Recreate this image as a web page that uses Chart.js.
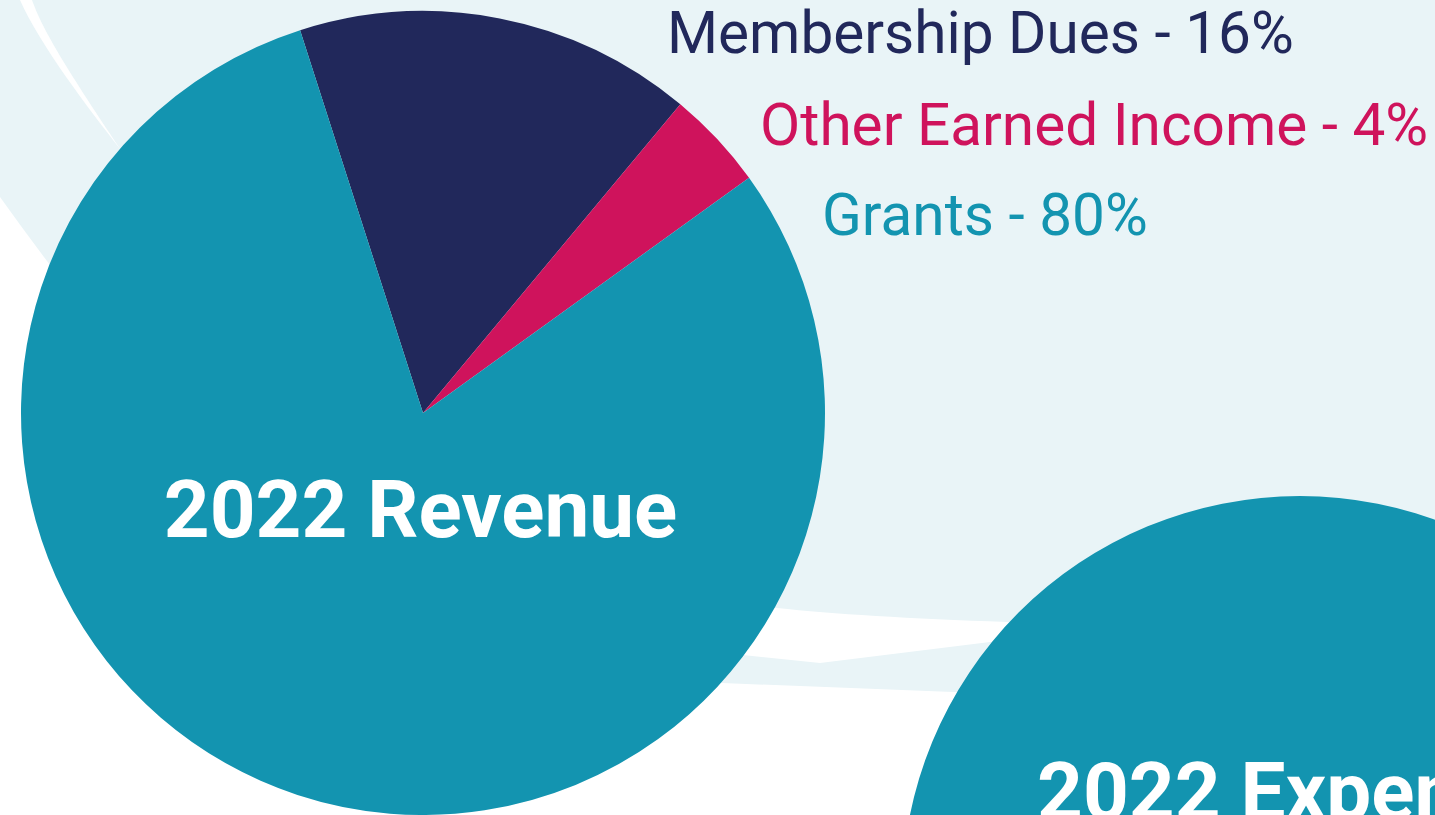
<!DOCTYPE html>
<html>
<head>
<meta charset="utf-8">
<title>2022 Revenue</title>
<script src="https://cdn.jsdelivr.net/npm/chart.js@4.4.1/dist/chart.umd.min.js"></script>
<style>
    html, body {
        margin: 0;
        padding: 0;
        width: 1435px;
        height: 815px;
        overflow: hidden;
        background: #ffffff;
        font-family: Roboto, "Noto Sans", sans-serif;
    }
    #page { position: relative; width: 1435px; height: 815px; overflow: hidden; }
    #bg { position: absolute; left: 0; top: 0; }
    #revenueChart { position: absolute; left: 0; top: 0; }
    #expenseWrap { position: absolute; left: 902px; top: 496px; width: 796px; height: 796px; }
</style>
</head>
<body>
<div id="page">
    <!-- background wash and swooshes -->
    <svg id="bg" width="1435" height="815" viewBox="0 0 1435 815">
        <path fill="#e9f4f7" d="M0,0 H1435 V700 L1200,700 L953,692 L722,683 L400,650 L100,330 L50,265 Q25,232 0,197 Z"/>
        <path fill="#ffffff" d="M20,0 L32,0 C42,28 62,62 121,150 C88,108 40,45 20,0 Z"/>
        <path fill="#ffffff" d="M700,600 L777,608 Q860,617 1007,622 L1100,625 L1100,636 L990,642 L820,663 L743,655 L690,648 Z"/>
    </svg>
    <canvas id="revenueChart" width="1435" height="815"></canvas>
    <div id="expenseWrap"><canvas id="expenseChart" width="796" height="796"></canvas></div>
</div>

<script>
// Revenue data (percent)
const revenueLabels = ['Membership Dues', 'Other Earned Income', 'Grants'];
const revenueValues = [16, 4, 80];
const revenueColors = ['#21285b', '#cf135c', '#1394b0'];
const revenueTitle = '2022 Revenue';

// Expenses chart is mostly cut off, only its teal part shows
const expenseLabels = ['Expenses'];
const expenseValues = [100];
const expenseColors = ['#1394b0'];
const expenseTitle = '2022 Expenses';

// where the category labels sit (left x, baseline y)
const labelPositions = [[667, 53], [760, 145], [822, 235]];

/* ===========================
   Plugins for the text
   =========================== */

const revenueText = {
    id: 'revenueText',
    afterDraw(chart) {
        const ctx = chart.ctx;
        ctx.save();
        ctx.textBaseline = 'alphabetic';

        // category labels to the right of the pie
        ctx.font = '400 58.5px Roboto';
        ctx.textAlign = 'left';
        revenueLabels.forEach((label, i) => {
            ctx.fillStyle = revenueColors[i];
            const pos = labelPositions[i];
            ctx.fillText(`${label} - ${revenueValues[i]}%`, pos[0], pos[1]);
        });

        // title inside the pie
        ctx.font = '700 80px Roboto';
        ctx.textAlign = 'center';
        ctx.fillStyle = '#ffffff';
        ctx.fillText(revenueTitle, 420.5, 537);
        ctx.restore();
    }
};

const expenseText = {
    id: 'expenseText',
    afterDraw(chart) {
        const ctx = chart.ctx;
        ctx.save();
        ctx.font = '700 80px Roboto';
        ctx.textAlign = 'left';
        ctx.textBaseline = 'alphabetic';
        ctx.fillStyle = '#ffffff';
        ctx.fillText(expenseTitle, 135, 323);
        ctx.restore();
    }
};

/* ===========================
   Charts
   =========================== */

function makePie(canvasId, labels, values, colors, padding, rotation, plugin) {
    const ctx = document.getElementById(canvasId).getContext('2d');
    return new Chart(ctx, {
        type: 'pie',
        data: {
            labels: labels,
            datasets: [{
                data: values,
                backgroundColor: colors,
                borderWidth: 0,
                hoverOffset: 0
            }]
        },
        options: {
            responsive: false,
            devicePixelRatio: 1,
            animation: false,
            rotation: rotation,
            layout: { padding: padding },
            plugins: {
                legend: { display: false },
                tooltip: { enabled: false }
            }
        },
        plugins: [plugin]
    });
}

document.fonts.load('700 80px Roboto').then(() => document.fonts.load('400 58.5px Roboto')).finally(() => {
    // pie area 804x804 -> centre (423, 413), radius 402
    makePie('revenueChart', revenueLabels, revenueValues, revenueColors,
        { left: 21, top: 11, right: 610, bottom: 0 }, -17.8, revenueText);
    makePie('expenseChart', expenseLabels, expenseValues, expenseColors,
        0, 0, expenseText);
});
</script>
</body>
</html>
